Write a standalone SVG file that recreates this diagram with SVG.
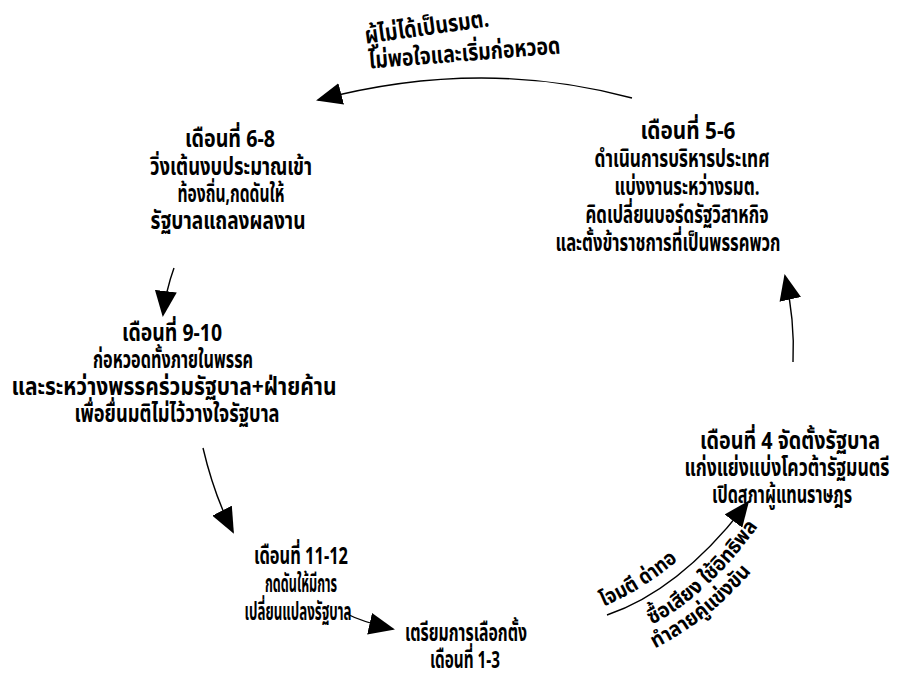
<svg xmlns="http://www.w3.org/2000/svg" width="897" height="675" viewBox="0 0 897 675">
<style>
.t{font-family:"Noto Sans Thai","Noto Sans","Liberation Sans",sans-serif;font-weight:bold;font-size:24px;fill:#000;text-anchor:middle}
.s{font-family:"Noto Sans Thai","Noto Sans","Liberation Sans",sans-serif;font-weight:bold;font-size:21px;fill:#000}
.c{fill:none;stroke:#000;stroke-width:1.4}
</style>
<defs>
<marker id="ah" viewBox="0 0 26 22" refX="24" refY="11" markerWidth="26" markerHeight="22" markerUnits="userSpaceOnUse" orient="auto">
<path d="M0,0 L26,11 L0,22 Z" fill="#000"/>
</marker>
<path id="p1" d="M598,609 Q650,588 694,546"/>
<path id="p2" d="M640,630 Q705,603 764,518"/>
<path id="p3" d="M645,653 Q715,621 764,556"/>
</defs>
<rect width="897" height="675" fill="#fff"/>
<g id="connectors">
<path class="c" d="M632,98 Q480,57 318,100" marker-end="url(#ah)"/>
<path class="c" d="M174,268 Q166,290 163,315" marker-end="url(#ah)"/>
<path class="c" d="M203,448 Q214,495 233,532" marker-end="url(#ah)"/>
<path class="c" d="M345,613 Q362,622 393,629" marker-end="url(#ah)"/>
<path class="c" d="M607,615 Q681,590 748,502" marker-end="url(#ah)"/>
<path class="c" d="M793,362 Q795,320 785,276" marker-end="url(#ah)"/>
</g>
<g id="label-top">
<text class="t" transform="translate(428,35) rotate(-8)" textLength="125" lengthAdjust="spacingAndGlyphs">ผู้ไม่ได้เป็นรมต.</text>
<text class="t" transform="translate(465,61) rotate(-4.5)" textLength="192" lengthAdjust="spacingAndGlyphs">ไม่พอใจและเริ่มก่อหวอด</text>
</g>
<g id="node-6-8">
<text class="t" x="230" y="147" textLength="90" lengthAdjust="spacingAndGlyphs">เดือนที่ 6-8</text>
<text class="t" x="231" y="175" textLength="162" lengthAdjust="spacingAndGlyphs">วิ่งเต้นงบประมาณเข้า</text>
<text class="t" x="231" y="202" textLength="107" lengthAdjust="spacingAndGlyphs">ท้องถิ่น,กดดันให้</text>
<text class="t" x="228" y="229" textLength="155" lengthAdjust="spacingAndGlyphs">รัฐบาลแถลงผลงาน</text>
</g>
<g id="node-5-6">
<text class="t" x="688" y="139" textLength="95" lengthAdjust="spacingAndGlyphs">เดือนที่ 5-6</text>
<text class="t" x="682" y="167" textLength="175" lengthAdjust="spacingAndGlyphs">ดำเนินการบริหารประเทศ</text>
<text class="t" x="687" y="195" textLength="145" lengthAdjust="spacingAndGlyphs">แบ่งงานระหว่างรมต.</text>
<text class="t" x="677" y="223" textLength="183" lengthAdjust="spacingAndGlyphs">คิดเปลี่ยนบอร์ดรัฐวิสาหกิจ</text>
<text class="t" x="668" y="251" textLength="225" lengthAdjust="spacingAndGlyphs">และตั้งข้าราชการที่เป็นพรรคพวก</text>
</g>
<g id="node-9-10">
<text class="t" x="172" y="341" textLength="100" lengthAdjust="spacingAndGlyphs">เดือนที่ 9-10</text>
<text class="t" x="173" y="368" textLength="160" lengthAdjust="spacingAndGlyphs">ก่อหวอดทั้งภายในพรรค</text>
<text class="t" x="174" y="395" textLength="325" lengthAdjust="spacingAndGlyphs">และระหว่างพรรคร่วมรัฐบาล+ฝ่ายค้าน</text>
<text class="t" x="177" y="422" textLength="205" lengthAdjust="spacingAndGlyphs">เพื่อยื่นมติไม่ไว้วางใจรัฐบาล</text>
</g>
<g id="node-11-12">
<text class="t" x="301" y="564" textLength="94" lengthAdjust="spacingAndGlyphs">เดือนที่ 11-12</text>
<text class="t" x="301" y="592" textLength="72" lengthAdjust="spacingAndGlyphs">กดดันให้มีการ</text>
<text class="t" x="298" y="620" textLength="107" lengthAdjust="spacingAndGlyphs">เปลี่ยนแปลงรัฐบาล</text>
</g>
<g id="node-1-3">
<text class="t" x="466" y="641" textLength="122" lengthAdjust="spacingAndGlyphs">เตรียมการเลือกตั้ง</text>
<text class="t" x="465" y="668" textLength="70" lengthAdjust="spacingAndGlyphs">เดือนที่ 1-3</text>
</g>
<g id="label-campaign">
<text class="s"><textPath href="#p1" startOffset="6" textLength="88" lengthAdjust="spacingAndGlyphs">โจมตี ด่าทอ</textPath></text>
<text class="s"><textPath href="#p2" startOffset="13" textLength="146" lengthAdjust="spacingAndGlyphs">ซื้อเสียง ใช้อิทธิพล</textPath></text>
<text class="s"><textPath href="#p3" startOffset="11" textLength="124" lengthAdjust="spacingAndGlyphs">ทำลายคู่แข่งขัน</textPath></text>
</g>
<g id="node-4">
<text class="t" x="790" y="449" textLength="180" lengthAdjust="spacingAndGlyphs">เดือนที่ 4 จัดตั้งรัฐบาล</text>
<text class="t" x="787" y="476" textLength="205" lengthAdjust="spacingAndGlyphs">แก่งแย่งแบ่งโควต้ารัฐมนตรี</text>
<text class="t" x="782" y="503" textLength="140" lengthAdjust="spacingAndGlyphs">เปิดสภาผู้แทนราษฎร</text>
</g>
</svg>
